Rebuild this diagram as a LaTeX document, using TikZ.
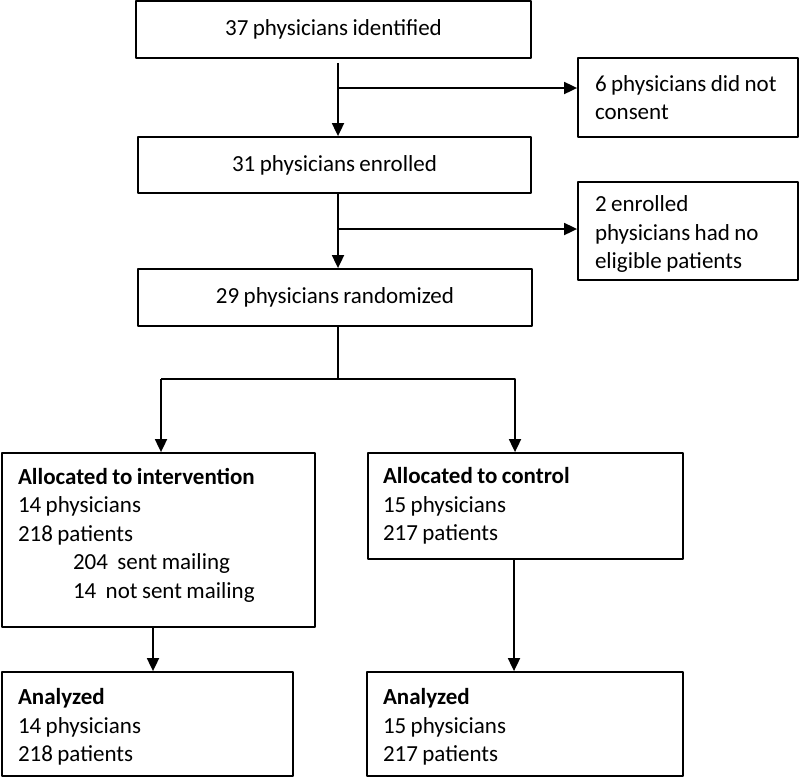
\documentclass[tikz,border=0pt]{standalone}
\usepackage{fontspec}
\setmainfont{Carlito}[WordSpace=0.85]
\usetikzlibrary{arrows.meta}
\newcommand\padtop[1]{\hrule height #1 depth 0pt width 0pt}
\begin{document}
\begin{tikzpicture}[x=1pt,y=-1pt, line join=round, >={Triangle[length=13pt,width=12pt]},
  font=\fontsize{23}{28.5}\selectfont,
  box/.style={draw, line width=1.8pt, inner sep=0pt, align=center},
  note/.style={draw, line width=1.8pt, inner xsep=17pt, inner ysep=0pt, text width=186pt, align=flush left},
  group/.style={draw, line width=1.8pt, inner xsep=16pt, inner ysep=0pt, align=flush left},
  arm/.style={line width=1.8pt}]
\useasboundingbox (0,0) rectangle (799,777);
% main column
\node[box, minimum width=395pt, minimum height=57pt] (ident) at (333.5,29.5) {37 physicians identified};
\node[box, minimum width=393pt, minimum height=56pt] (enrolled) at (334.5,165) {31 physicians enrolled};
\node[box, minimum width=394pt, minimum height=57pt] (rand) at (335,297.5) {29 physicians randomized};
% exclusions
\node[note, minimum height=79pt] (nocons) at (688,97.5) {\mbox{6 physicians did not}\\consent};
\node[note, minimum height=98pt] (noelig) at (688,231) {\padtop{6pt}2 enrolled\\\mbox{physicians had no}\\eligible patients};
% arms
\node[group, text width=281pt, minimum height=174pt] (interv) at (158.5,540) {\textbf{Allocated to intervention}\\14 physicians\\218 patients\\\hspace*{55pt}204\hspace{5pt} sent mailing\\\hspace*{55pt}14\hspace{5pt} not sent mailing\par\padtop{10pt}};
\node[group, inner xsep=15pt, text width=285pt, minimum height=106pt] (ctrl) at (525.5,506) {\textbf{Allocated to control}\\15 physicians\\217 patients};
\node[group, text width=259pt, minimum height=104pt] (anaL) at (147.5,724) {\padtop{6pt}\textbf{Analyzed}\\14 physicians\\218 patients};
\node[group, text width=284pt, minimum height=104pt] (anaR) at (525,724) {\padtop{6pt}\textbf{Analyzed}\\15 physicians\\217 patients};
% junctions
\coordinate (j1) at (338,88);
\coordinate (j2) at (338,229);
\coordinate (j3) at (338,379);
\coordinate (cl) at (161,379);
\coordinate (cr) at (515,379);
\coordinate (dl) at (153,650);
\coordinate (dr) at (514,650);
\draw[arm,->,shorten <=4pt] (ident.south -| j1) -- (enrolled.north -| j1);
\draw[arm,->] (j1) -- (nocons.west |- j1);
\draw[arm,->] (enrolled.south -| j2) -- (rand.north -| j2);
\draw[arm,->] (j2) -- (noelig.west |- j2);
\draw[arm] (rand.south -| j3) -- (j3);
\draw[arm,->] (cl) -| (ctrl.north -| cr);
\draw[arm,->] (cl) -- (interv.north -| cl);
\draw[arm,->] (interv.south -| dl) -- (anaL.north -| dl);
\draw[arm,->] (ctrl.south -| dr) -- (anaR.north -| dr);
\end{tikzpicture}
\end{document}
